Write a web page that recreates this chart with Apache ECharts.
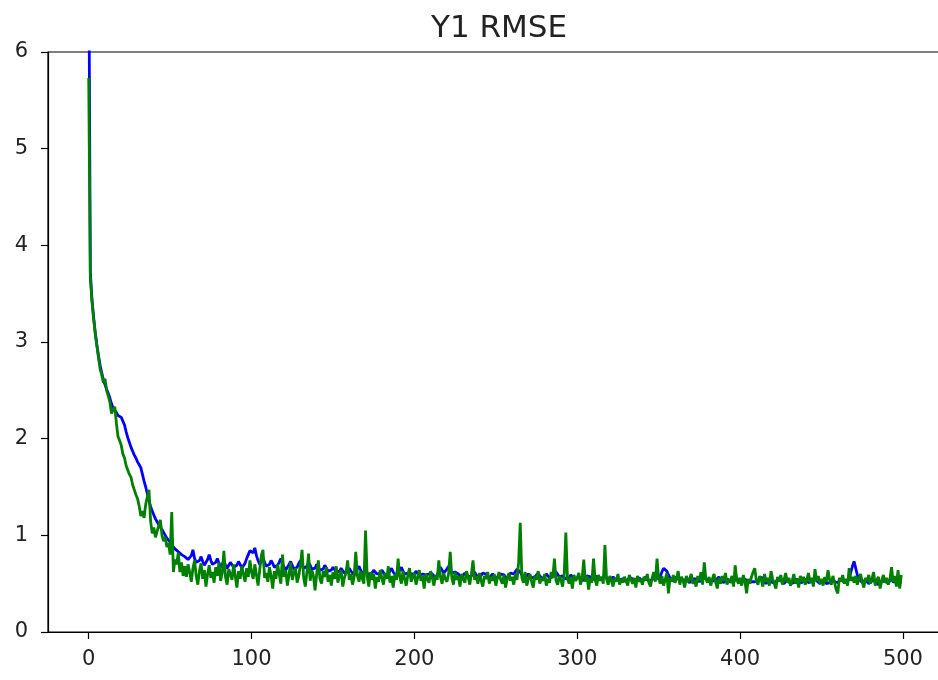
<!DOCTYPE html>
<html>
<head>
<meta charset="utf-8">
<style>
  html, body { margin: 0; padding: 0; background: #fff; overflow: hidden; }
  #chart-container { width: 938px; height: 680px; }
</style>
<script src="https://cdn.jsdelivr.net/npm/echarts@6/dist/echarts.min.js"></script>
</head>
<body>
<div id="chart-container"></div>
<script>
var xTicks = [0, 100, 200, 300, 400, 500];
var yTicks = [0, 1, 2, 3, 4, 5, 6];

// blue curve, one value per epoch (0..499)
var blueValues = [
  7.20,3.72,3.44,3.26,3.10,2.97,2.86,2.76,2.68,2.61,
  2.56,2.51,2.47,2.42,2.36,2.32,2.30,2.27,2.24,2.23,
  2.22,2.20,2.14,2.07,2.01,1.96,1.91,1.87,1.83,1.80,
  1.76,1.73,1.70,1.63,1.56,1.50,1.43,1.36,1.30,1.25,
  1.21,1.17,1.14,1.11,1.09,1.06,1.03,1.00,0.97,0.95,
  0.93,0.90,0.88,0.86,0.84,0.83,0.82,0.80,0.79,0.78,
  0.77,0.75,0.74,0.79,0.85,0.76,0.72,0.70,0.74,0.78,
  0.73,0.69,0.71,0.75,0.80,0.74,0.70,0.68,0.72,0.76,
  0.71,0.67,0.70,0.74,0.69,0.66,0.68,0.72,0.70,0.67,
  0.65,0.69,0.73,0.70,0.66,0.68,0.71,0.76,0.80,0.84,
  0.86,0.82,0.87,0.79,0.74,0.70,0.73,0.77,0.72,0.68,
  0.66,0.70,0.74,0.71,0.67,0.65,0.69,0.72,0.76,0.71,
  0.67,0.64,0.66,0.70,0.73,0.69,0.65,0.63,0.67,0.71,
  0.74,0.70,0.66,0.64,0.68,0.72,0.69,0.65,0.63,0.66,
  0.70,0.67,0.64,0.62,0.65,0.69,0.66,0.63,0.61,0.64,
  0.67,0.65,0.62,0.60,0.63,0.66,0.64,0.61,0.60,0.63,
  0.66,0.63,0.61,0.59,0.62,0.65,0.68,0.64,0.61,0.60,
  0.63,0.61,0.59,0.58,0.61,0.64,0.62,0.60,0.58,0.61,
  0.64,0.62,0.59,0.58,0.60,0.63,0.66,0.62,0.60,0.58,
  0.61,0.64,0.67,0.63,0.60,0.58,0.61,0.63,0.60,0.58,
  0.60,0.63,0.61,0.58,0.57,0.60,0.62,0.59,0.57,0.60,
  0.62,0.60,0.58,0.56,0.59,0.63,0.67,0.64,0.61,0.63,
  0.65,0.68,0.64,0.61,0.59,0.62,0.64,0.60,0.58,0.56,
  0.58,0.61,0.59,0.57,0.56,0.58,0.60,0.62,0.59,0.57,
  0.56,0.58,0.61,0.63,0.60,0.58,0.56,0.57,0.60,0.58,
  0.56,0.55,0.57,0.60,0.62,0.59,0.57,0.55,0.58,0.61,
  0.63,0.60,0.62,0.65,0.66,0.62,0.59,0.57,0.56,0.58,
  0.60,0.58,0.56,0.55,0.57,0.59,0.61,0.58,0.56,0.55,
  0.57,0.60,0.58,0.56,0.55,0.57,0.59,0.62,0.60,0.57,
  0.56,0.58,0.57,0.55,0.54,0.56,0.59,0.57,0.55,0.54,
  0.56,0.58,0.56,0.54,0.53,0.55,0.58,0.60,0.57,0.55,
  0.54,0.56,0.58,0.55,0.53,0.55,0.57,0.59,0.56,0.54,
  0.53,0.55,0.57,0.55,0.53,0.52,0.54,0.56,0.55,0.53,
  0.52,0.54,0.56,0.58,0.55,0.53,0.52,0.54,0.56,0.54,
  0.53,0.55,0.57,0.55,0.53,0.52,0.54,0.56,0.58,0.56,
  0.55,0.58,0.62,0.66,0.67,0.63,0.59,0.56,0.54,0.53,
  0.55,0.57,0.55,0.53,0.52,0.54,0.56,0.54,0.52,0.51,
  0.53,0.55,0.57,0.55,0.53,0.52,0.54,0.56,0.58,0.55,
  0.53,0.52,0.54,0.53,0.51,0.53,0.55,0.57,0.54,0.52,
  0.51,0.53,0.55,0.53,0.52,0.50,0.52,0.54,0.56,0.53,
  0.52,0.51,0.53,0.55,0.53,0.51,0.50,0.52,0.54,0.52,
  0.51,0.53,0.55,0.57,0.54,0.52,0.50,0.52,0.54,0.53,
  0.51,0.50,0.52,0.54,0.56,0.53,0.51,0.50,0.52,0.54,
  0.52,0.50,0.49,0.51,0.53,0.55,0.52,0.50,0.51,0.53,
  0.55,0.53,0.51,0.50,0.52,0.54,0.56,0.53,0.51,0.50,
  0.52,0.54,0.52,0.50,0.49,0.51,0.53,0.55,0.52,0.50,
  0.51,0.53,0.55,0.53,0.51,0.50,0.52,0.56,0.62,0.68,
  0.73,0.66,0.59,0.55,0.53,0.51,0.52,0.54,0.52,0.50,
  0.51,0.53,0.55,0.52,0.50,0.49,0.51,0.53,0.55,0.52,
  0.50,0.51,0.53,0.55,0.52,0.50,0.52,0.54,0.51,0.50
];

// green curve, one value per epoch (0..499)
var greenValues = [
  5.73,3.66,3.42,3.24,3.09,3.08,2.84,2.72,2.66,2.58,
  2.62,2.50,2.44,2.38,2.26,2.30,2.33,2.16,2.02,1.98,
  1.93,1.84,1.80,1.72,1.74,1.63,1.60,1.52,1.47,1.42,
  1.38,1.30,1.20,1.25,1.18,1.32,1.40,1.47,1.15,1.02,
  1.08,0.98,1.04,1.10,1.16,1.00,0.94,0.98,0.88,0.92,
  0.80,1.24,0.62,0.75,0.70,0.82,0.62,0.72,0.58,0.68,
  0.57,0.70,0.62,0.52,0.66,0.74,0.58,0.49,0.63,0.71,
  0.55,0.64,0.47,0.60,0.69,0.56,0.62,0.51,0.67,0.58,
  0.72,0.53,0.61,0.84,0.57,0.49,0.65,0.60,0.54,0.70,
  0.58,0.46,0.63,0.55,0.68,0.60,0.52,0.66,0.57,0.74,
  0.62,0.55,0.70,0.59,0.48,0.64,0.79,0.85,0.56,0.61,
  0.52,0.67,0.58,0.45,0.63,0.55,0.70,0.60,0.50,0.80,
  0.57,0.64,0.48,0.59,0.72,0.54,0.61,0.66,0.51,0.58,
  0.69,0.85,0.56,0.47,0.62,0.81,0.53,0.64,0.58,0.43,
  0.60,0.74,0.55,0.50,0.63,0.57,0.67,0.52,0.59,0.48,
  0.62,0.55,0.68,0.51,0.58,0.64,0.47,0.56,0.61,0.74,
  0.54,0.60,0.49,0.57,0.83,0.58,0.52,0.63,0.55,0.50,
  1.05,0.58,0.47,0.62,0.54,0.60,0.45,0.57,0.52,0.64,
  0.56,0.49,0.61,0.55,0.68,0.51,0.58,0.46,0.60,0.54,
  0.76,0.57,0.50,0.63,0.55,0.48,0.59,0.66,0.52,0.57,
  0.61,0.49,0.56,0.64,0.53,0.58,0.45,0.60,0.55,0.51,
  0.63,0.56,0.48,0.59,0.54,0.74,0.57,0.50,0.61,0.55,
  0.52,0.60,0.83,0.56,0.49,0.62,0.54,0.58,0.47,0.60,
  0.55,0.51,0.63,0.57,0.49,0.60,0.74,0.54,0.58,0.50,
  0.61,0.53,0.47,0.58,0.55,0.62,0.50,0.57,0.53,0.60,
  0.48,0.56,0.62,0.54,0.50,0.59,0.46,0.55,0.61,0.53,
  0.57,0.49,0.60,0.54,0.72,1.13,0.56,0.51,0.62,0.48,
  0.55,0.60,0.52,0.46,0.58,0.54,0.63,0.50,0.56,0.53,
  0.60,0.48,0.55,0.51,0.62,0.56,0.76,0.53,0.49,0.58,
  0.54,0.47,0.60,1.03,0.55,0.50,0.57,0.45,0.59,0.53,
  0.56,0.61,0.49,0.55,0.75,0.52,0.58,0.44,0.56,0.51,
  0.76,0.54,0.48,0.59,0.53,0.57,0.50,0.90,0.55,0.49,
  0.58,0.53,0.47,0.56,0.52,0.60,0.49,0.55,0.51,0.57,
  0.53,0.48,0.59,0.54,0.50,0.56,0.46,0.58,0.52,0.55,
  0.49,0.57,0.53,0.60,0.51,0.47,0.56,0.62,0.52,0.76,
  0.55,0.50,0.58,0.48,0.54,0.61,0.40,0.56,0.52,0.59,
  0.51,0.55,0.63,0.49,0.57,0.53,0.46,0.58,0.52,0.55,
  0.60,0.50,0.54,0.47,0.58,0.53,0.62,0.49,0.72,0.55,
  0.51,0.57,0.48,0.55,0.60,0.52,0.45,0.56,0.50,0.58,
  0.53,0.61,0.49,0.55,0.51,0.58,0.47,0.69,0.54,0.50,
  0.56,0.48,0.59,0.52,0.40,0.55,0.50,0.57,0.62,0.66,
  0.53,0.49,0.58,0.54,0.47,0.60,0.52,0.56,0.48,0.63,
  0.55,0.50,0.45,0.57,0.52,0.59,0.49,0.54,0.61,0.51,
  0.56,0.48,0.53,0.60,0.50,0.55,0.46,0.58,0.52,0.57,
  0.49,0.54,0.61,0.51,0.56,0.47,0.65,0.53,0.58,0.50,
  0.55,0.48,0.57,0.52,0.64,0.54,0.49,0.58,0.51,0.44,
  0.40,0.56,0.52,0.59,0.50,0.55,0.48,0.66,0.53,0.57,
  0.51,0.58,0.49,0.55,0.60,0.52,0.46,0.56,0.53,0.59,
  0.50,0.55,0.62,0.48,0.54,0.57,0.45,0.53,0.59,0.51,
  0.56,0.49,0.54,0.67,0.52,0.58,0.47,0.64,0.45,0.59
];

var dom = document.getElementById('chart-container');
var myChart = echarts.init(dom, null, { renderer: 'canvas' });

function toPoints(values) {
  return values.map(function (v, i) { return [i, v]; });
}

var font = 'DejaVu Sans';

var option = {
  animation: false,
  title: {
    text: 'Y1 RMSE',
    left: 494,
    top: 8,
    textAlign: 'center',
    textStyle: { fontFamily: font, fontSize: 31, fontWeight: 'normal', color: '#222' }
  },
  grid: {
    // plot runs a little past the right edge of the picture
    left: 48, width: 894, top: 52, bottom: 48,
    outerBoundsMode: 'none',
    show: true, borderColor: '#000', borderWidth: 1.2, backgroundColor: 'transparent'
  },
  xAxis: {
    type: 'value',
    min: -25,
    max: 524,
    axisLine: { lineStyle: { color: '#000', width: 1.2 } },
    axisTick: { show: true, length: 7, customValues: xTicks, lineStyle: { color: '#000', width: 1.2 } },
    axisLabel: { customValues: xTicks, margin: 17, fontFamily: font, fontSize: 21, color: '#222' },
    splitLine: { show: false }
  },
  yAxis: {
    type: 'value',
    min: 0,
    max: 6,
    interval: 1,
    axisLine: { show: true, onZero: false, lineStyle: { color: '#000', width: 1.2 } },
    axisTick: { show: true, length: 7, lineStyle: { color: '#000', width: 1.2 } },
    axisLabel: { margin: 20, fontFamily: font, fontSize: 21, color: '#222' },
    splitLine: { show: false }
  },
  series: [
    {
      name: 'blue',
      type: 'line',
      data: toPoints(blueValues),
      showSymbol: false,
      symbol: 'none',
      clip: true,
      lineStyle: { color: '#0000ff', width: 2.8 }
    },
    {
      name: 'green',
      type: 'line',
      data: toPoints(greenValues),
      showSymbol: false,
      symbol: 'none',
      clip: true,
      lineStyle: { color: '#008000', width: 2.8 }
    }
  ]
};

myChart.setOption(option);
window.addEventListener('resize', myChart.resize);
</script>
</body>
</html>
